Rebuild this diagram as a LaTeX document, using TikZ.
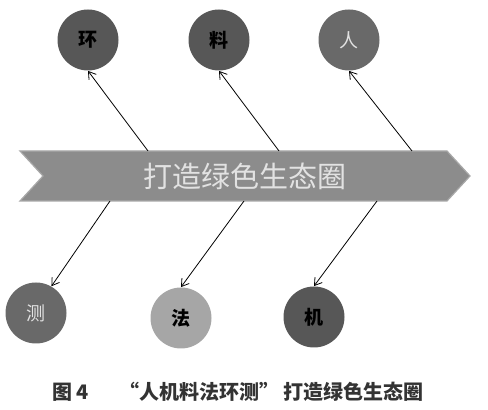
\documentclass[tikz,border=0pt]{standalone}
\usepackage{fontspec}
\newfontfamily\cjk{Noto Sans CJK SC}
\usetikzlibrary{arrows.meta}
\definecolor{bandgray}{HTML}{8C8C8C}
\definecolor{bandedge}{HTML}{A8A8A8}
\definecolor{darkball}{HTML}{575757}
\definecolor{midball}{HTML}{696969}
\definecolor{lightball}{HTML}{A6A6A6}
\definecolor{paletext}{HTML}{E2E2E2}
\definecolor{captiongray}{HTML}{333333}

\begin{document}
\begin{tikzpicture}[x=0.5pt, y=-0.5pt, >={Straight Barb[length=3.5pt,width=4.5pt]},
    ball/.style={circle, minimum size=30.5pt, inner sep=0pt, font=\cjk\bfseries\fontsize{9.5}{9.5}\selectfont}]
    \useasboundingbox (0,0) rectangle (488,410);
    % band
    \draw[fill=bandgray, draw=bandedge, line width=0.6pt] (20,151) -- (447,151) -- (470,176) -- (447,201) -- (20,201) -- (43,176) -- cycle;
    \node[text=paletext, font=\cjk\fontsize{14.5}{14.5}\selectfont] (title) at (245,176) {打造绿色生态圈};
    % top row
    \node[ball, fill=darkball] (huan) at (88,40) {环};
    \node[ball, fill=darkball] (liao) at (219,40) {料};
    \node[ball, fill=midball, text=paletext, font=\cjk\fontsize{9.5}{9.5}\selectfont] (ren) at (349,40) {人};
    % bottom row
    \node[ball, fill=midball, text=paletext, font=\cjk\fontsize{9.5}{9.5}\selectfont] (ce) at (36,313) {测};
    \node[ball, fill=lightball] (fa) at (181,318) {法};
    \node[ball, fill=darkball] (ji) at (314,317) {机};
    \coordinate (h0) at (148,151);
    \coordinate (l0) at (279,151);
    \coordinate (r0) at (412,151);
    \coordinate (c0) at (110,201);
    \coordinate (f0) at (244,201);
    \coordinate (j0) at (377,201);
    \draw[->, thin] (h0) -- (huan.south);
    \draw[->, thin] (l0) -- (liao.south);
    \draw[->, thin] (r0) -- (ren.south);
    \draw[->, thin] (c0) -- (ce.60);
    \draw[->, thin] (f0) -- (fa.north);
    \draw[->, thin] (j0) -- (ji.north);
    % caption
    \node[text=captiongray, font=\cjk\bfseries\fontsize{10}{10}\selectfont] (caption) at (238,392) {图 4\hspace{1.5em}“人机料法环测” 打造绿色生态圈};
\end{tikzpicture}
\end{document}
